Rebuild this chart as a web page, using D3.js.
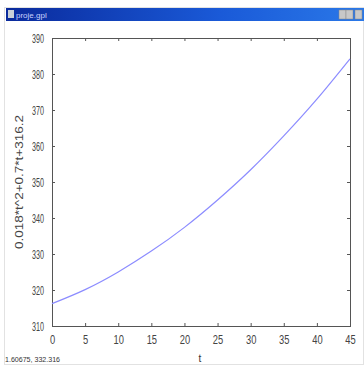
<!DOCTYPE html>
<html>
<head>
<meta charset="utf-8">
<script src="https://cdn.jsdelivr.net/npm/d3@7"></script>
<style>
	body { margin: 0; background: #fff; }
	#canvas { width: 364px; height: 365px; }
	text { font-family: "Liberation Sans", Arial, sans-serif; }
</style>
</head>
<body>
<div id="canvas"></div>
<script>
// values
var tValues = [0, 5, 10, 15, 20, 25, 30, 35, 40, 45];
var yValues = [316.2, 320.1, 325.0, 330.8, 337.4, 345.0, 353.4, 362.8, 373.0, 384.2];
var xTicks = [0, 5, 10, 15, 20, 25, 30, 35, 40, 45];
var yTicks = [310, 320, 330, 340, 350, 360, 370, 380, 390];
var windowTitle = "proje.gpl";
var yLabel = "0.018*t^2+0.7*t+316.2";
var xLabel = "t";
var statusText = "1.60675, 332.316";

var w = 364, h = 365;
var svg = d3.select("#canvas")
	.append("svg")
	.attr("width", w)
	.attr("height", h);

// window frame + title bar
svg.append("rect")
	.attr("x", 4.5).attr("y", 7.5)
	.attr("width", w - 5).attr("height", h - 8)
	.attr("fill", "#fff")
	.attr("stroke", "#e2e2e2");

var grad = svg.append("defs").append("linearGradient")
	.attr("id", "titleGrad")
	.attr("x1", "0%").attr("x2", "100%");
grad.append("stop").attr("offset", "0%").attr("stop-color", "#0a2a9c");
grad.append("stop").attr("offset", "60%").attr("stop-color", "#1a5ad8");
grad.append("stop").attr("offset", "100%").attr("stop-color", "#2a78e8");

svg.append("rect")
	.attr("x", 6).attr("y", 8)
	.attr("width", w - 6).attr("height", 13)
	.attr("fill", "url(#titleGrad)");
svg.append("rect")
	.attr("x", 8).attr("y", 10)
	.attr("width", 6).attr("height", 8)
	.attr("fill", "#c8d0d8");
svg.append("text")
	.attr("x", 16).attr("y", 18)
	.attr("font-size", 8)
	.attr("fill", "#c8d2ff")
	.text(windowTitle);
[339, 346, 355].forEach(function(x){
	svg.append("rect")
		.attr("x", x).attr("y", 10)
		.attr("width", 7).attr("height", 9)
		.attr("fill", "#c8c8c8")
		.attr("stroke", "#888").attr("stroke-width", 0.5);
});

// plot area
var plotLeft = 52, plotRight = 350, plotTop = 38, plotBottom = 326;

var xScale = d3.scaleLinear()
	.domain([0, 45])
	.range([plotLeft, plotRight]);

var yScale = d3.scaleLinear()
	.domain([310, 390])
	.range([plotBottom, plotTop]);

var axisColor = "#555";

// narrow, tall digits like the original
function styleAxis(g, digitWidth){
	g.select(".domain").remove();
	g.selectAll(".tick line").attr("stroke", axisColor);
	g.selectAll(".tick text")
		.attr("fill", "#444")
		.attr("font-size", 13)
		.attr("font-family", "\"Liberation Sans\", Arial, sans-serif")
		.attr("lengthAdjust", "spacingAndGlyphs")
		.attr("textLength", function(){ return this.textContent.length * digitWidth; });
}

svg.append("g")
	.attr("transform", "translate(0," + plotBottom + ")")
	.call(d3.axisBottom(xScale).tickValues(xTicks).tickSizeInner(-3).tickSizeOuter(0).tickPadding(9))
	.call(styleAxis, 5.2);

svg.append("g")
	.attr("transform", "translate(0," + plotTop + ")")
	.call(d3.axisTop(xScale).tickValues(xTicks).tickSizeInner(-3).tickSizeOuter(0).tickFormat(""))
	.call(styleAxis, 5);

svg.append("g")
	.attr("transform", "translate(" + plotLeft + ",0)")
	.call(d3.axisLeft(yScale).tickValues(yTicks).tickSizeInner(-3).tickSizeOuter(0).tickPadding(8))
	.call(styleAxis, 4);

svg.append("g")
	.attr("transform", "translate(" + plotRight + ",0)")
	.call(d3.axisRight(yScale).tickValues(yTicks).tickSizeInner(-3).tickSizeOuter(0).tickFormat(""))
	.call(styleAxis, 4);

svg.append("rect")
	.attr("x", plotLeft + 0.5).attr("y", plotTop + 0.5)
	.attr("width", plotRight - plotLeft).attr("height", plotBottom - plotTop)
	.attr("fill", "none")
	.attr("stroke", axisColor);

// curve
var line = d3.line()
	.x(function(d, i){ return xScale(tValues[i]); })
	.y(function(d){ return yScale(d); })
	.curve(d3.curveNatural);

svg.append("path")
	.datum(yValues)
	.attr("d", line)
	.attr("fill", "none")
	.attr("stroke", "#8c8cff")
	.attr("stroke-width", 1.2);

// labels
svg.append("text")
	.attr("transform", "translate(23," + ((plotTop + plotBottom) / 2) + ") rotate(-90)")
	.attr("text-anchor", "middle")
	.attr("font-size", 11)
	.attr("lengthAdjust", "spacingAndGlyphs")
	.attr("textLength", 134)
	.attr("fill", "#444")
	.text(yLabel);

svg.append("text")
	.attr("x", 200).attr("y", 362)
	.attr("text-anchor", "middle")
	.attr("font-size", 10)
	.attr("fill", "#333")
	.text(xLabel);

svg.append("text")
	.attr("x", 5).attr("y", 362)
	.attr("font-size", 8)
	.attr("lengthAdjust", "spacingAndGlyphs")
	.attr("textLength", 55)
	.attr("fill", "#333")
	.text(statusText);
</script>
</body>
</html>
